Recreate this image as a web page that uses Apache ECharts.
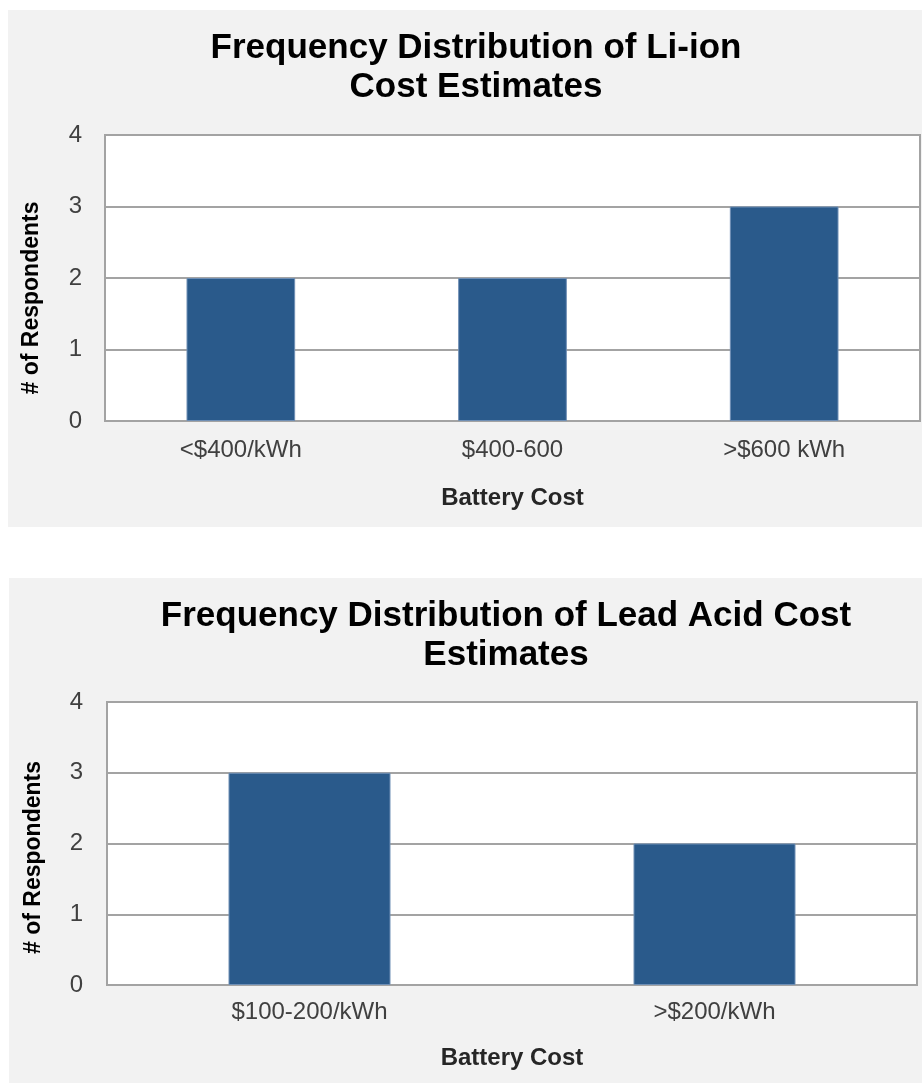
<!DOCTYPE html>
<html>
<head>
<meta charset="utf-8">
<script src="https://cdn.jsdelivr.net/npm/echarts@6/dist/echarts.min.js"></script>
<style>
  html, body { margin: 0; padding: 0; background: #ffffff; width: 922px; height: 1083px; overflow: hidden; }
  .panel { position: absolute; background: #f2f2f2; }
  #c1 { left: 8px; top: 10px; width: 914px; height: 517px; }
  #c2 { left: 9px; top: 578px; width: 913px; height: 505px; }
</style>
</head>
<body>
<div id="c1" class="panel"></div>
<div id="c2" class="panel"></div>
<script>
// ---- Data ----
const liionTitle = "Frequency Distribution of Li-ion\nCost Estimates";
const liionCategories = ["<$400/kWh", "$400-600", ">$600 kWh"];
const liionCounts = [2, 2, 3];

const leadTitle = "Frequency Distribution of Lead Acid Cost\nEstimates";
const leadCategories = ["$100-200/kWh", ">$200/kWh"];
const leadCounts = [3, 2];

const xAxisName = "Battery Cost";
const yAxisName = "# of Respondents";
const yMin = 0, yMax = 4, yInterval = 1;

// ---- Styling ----
const FONT = '"Liberation Sans", Arial, Helvetica, sans-serif';
const BAR = '#2a5a8b';
const GRIDC = '#a3a3a3';

function makeOption(cfg) {
  return {
    backgroundColor: 'transparent',
    animation: false,
    title: {
      text: cfg.title,
      left: cfg.titleX,
      top: 14,
      textAlign: 'center',
      textStyle: {
        fontFamily: FONT, fontWeight: 'bold', fontSize: 35,
        lineHeight: 39, color: '#000000'
      }
    },
    grid: {
      left: cfg.grid.left, right: cfg.grid.right, top: cfg.grid.top, bottom: cfg.grid.bottom,
      show: true, backgroundColor: '#ffffff', borderColor: GRIDC, borderWidth: 2,
      containLabel: false
    },
    xAxis: {
      type: 'category',
      data: cfg.categories,
      name: xAxisName,
      nameLocation: 'middle',
      nameGap: cfg.nameGapX,
      nameTextStyle: { fontFamily: FONT, fontSize: 24, fontWeight: 'bold', color: '#262626' },
      axisLine: { show: true, lineStyle: { color: GRIDC, width: 2 } },
      axisTick: { show: false },
      axisLabel: { fontFamily: FONT, fontSize: 24, color: '#404040', margin: cfg.labelMarginX }
    },
    yAxis: {
      type: 'value',
      min: yMin, max: yMax, interval: yInterval,
      name: yAxisName,
      nameLocation: 'middle',
      nameGap: cfg.nameGapY,
      nameRotate: 90,
      nameTextStyle: {
        fontFamily: FONT, fontSize: 23, fontWeight: 'bold', color: '#000000',
        padding: [0, cfg.namePadY, 0, 0]
      },
      axisLine: { show: false },
      axisTick: { show: false },
      axisLabel: { fontFamily: FONT, fontSize: 24, color: '#404040', margin: cfg.labelMarginY },
      splitLine: { show: true, lineStyle: { color: GRIDC, width: 2 } }
    },
    series: [{
      type: 'bar',
      data: cfg.values,
      barCategoryGap: '60%',
      itemStyle: { color: BAR, borderColor: '#6f8fb5', borderWidth: 1 }
    }]
  };
}

const chart1 = echarts.init(document.getElementById('c1'), null, { renderer: 'canvas' });
chart1.setOption(makeOption({
  title: liionTitle, titleX: 463,
  categories: liionCategories, values: liionCounts,
  grid: { left: 97, right: 2, top: 125, bottom: 106 },
  nameGapX: 65, labelMarginX: 17,
  nameGapY: 62, namePadY: 40, labelMarginY: 23
}));

const chart2 = echarts.init(document.getElementById('c2'), null, { renderer: 'canvas' });
chart2.setOption(makeOption({
  title: leadTitle, titleX: 492,
  categories: leadCategories, values: leadCounts,
  grid: { left: 98, right: 5, top: 124, bottom: 98 },
  nameGapX: 61, labelMarginX: 15,
  nameGapY: 62, namePadY: 28, labelMarginY: 24
}));
</script>
</body>
</html>
